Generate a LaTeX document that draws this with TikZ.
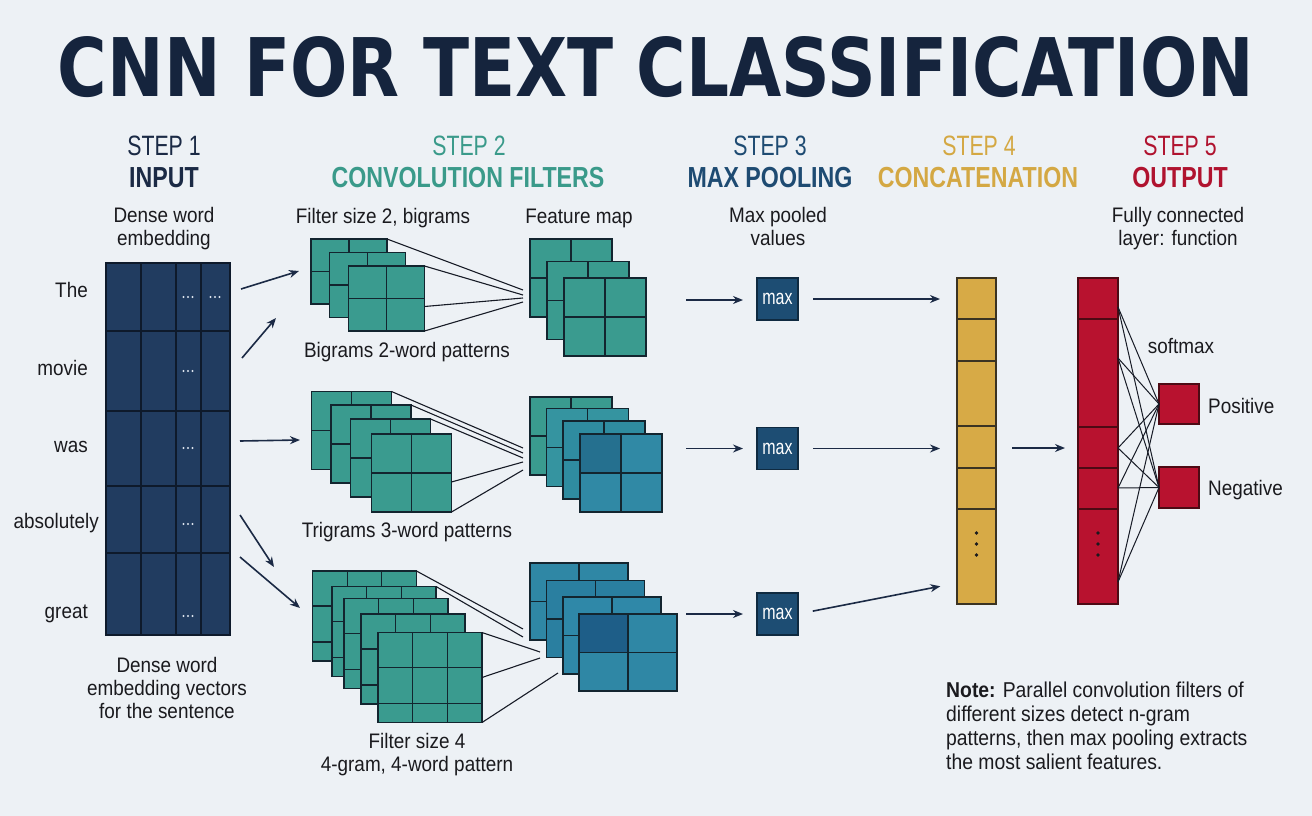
\documentclass[tikz,border=0pt]{standalone}
\usepackage{fontspec}
\usepackage{graphicx}
\setmainfont{Liberation Sans}[FakeStretch=0.9]
\newfontfamily\stepf{Liberation Sans}[FakeStretch=0.76]
\newfontfamily\hdrf{Liberation Sans}[FakeStretch=0.8]
\newfontfamily\titlef{DejaVu Sans}
\usetikzlibrary{arrows.meta,calc}
\definecolor{bg}{HTML}{EDF1F5}
\definecolor{titlec}{HTML}{15243D}
\definecolor{ink}{HTML}{1A1A1E}
\definecolor{c1}{HTML}{1B2A45}
\definecolor{c2}{HTML}{3A9A8A}
\definecolor{c3}{HTML}{1E4B72}
\definecolor{c4}{HTML}{D4A843}
\definecolor{c5}{HTML}{B0132F}
\definecolor{navyf}{HTML}{213C60}
\definecolor{navye}{HTML}{0E1A2B}
\definecolor{dotc}{HTML}{DCE4EE}
\definecolor{edge}{HTML}{13252F}
\definecolor{tealf}{HTML}{3A9B8F}
\definecolor{tealb}{HTML}{3594A0}
\definecolor{tealc}{HTML}{2F8CA0}
\definecolor{teald}{HTML}{3089A5}
\definecolor{darkm}{HTML}{25708F}
\definecolor{blua}{HTML}{2F87A5}
\definecolor{blub}{HTML}{2A7FA0}
\definecolor{bluc}{HTML}{2F88A8}
\definecolor{darkb}{HTML}{1E5E88}
\definecolor{maxc}{HTML}{1D4D73}
\definecolor{maxe}{HTML}{0F2A40}
\definecolor{goldf}{HTML}{D7AA46}
\definecolor{golde}{HTML}{3B3322}
\definecolor{redf}{HTML}{B8122F}
\definecolor{rede}{HTML}{4D0A14}
\definecolor{linec}{HTML}{171B26}
\definecolor{arrc}{HTML}{1B2A45}
\newcommand\wdots[2]{\foreach \dd in {-4.5,0,4.5}{\fill[dotc] ({#1+\dd},{#2}) circle[radius=1.15pt];}}
\begin{document}
\begin{tikzpicture}[x=1pt,y=-1pt,
  cell/.style={draw=edge, line width=1.3pt, inner sep=0pt, outer sep=0pt, rectangle},
  gridl/.style={draw=edge, line width=1.3pt},
  g2/.style={path picture={
    \draw[gridl] (path picture bounding box.north) -- (path picture bounding box.south)
                 (path picture bounding box.west) -- (path picture bounding box.east);}},
  g2d/.style={path picture={
    \fill[#1] (path picture bounding box.north west) rectangle (path picture bounding box.center);
    \draw[gridl] (path picture bounding box.north) -- (path picture bounding box.south)
                 (path picture bounding box.west) -- (path picture bounding box.east);}},
  g3/.style={path picture={
    \draw[gridl]
     ($(path picture bounding box.north west)!1/3!(path picture bounding box.north east)$) -- ($(path picture bounding box.south west)!1/3!(path picture bounding box.south east)$)
     ($(path picture bounding box.north west)!2/3!(path picture bounding box.north east)$) -- ($(path picture bounding box.south west)!2/3!(path picture bounding box.south east)$)
     ($(path picture bounding box.north west)!0.39!(path picture bounding box.south west)$) -- ($(path picture bounding box.north east)!0.39!(path picture bounding box.south east)$)
     ($(path picture bounding box.north west)!0.79!(path picture bounding box.south west)$) -- ($(path picture bounding box.north east)!0.79!(path picture bounding box.south east)$);}},
  fil/.style={cell, fill=tealf, minimum width=76pt, minimum height=65pt, g2},
  filb/.style={cell, fill=tealf, minimum width=80pt, minimum height=78pt, g2},
  filc/.style={cell, fill=tealf, minimum width=104pt, minimum height=90pt, g3},
  fm/.style={cell, fill=#1, minimum width=82pt, minimum height=78pt},
  fmc/.style={cell, fill=#1, minimum width=98pt, minimum height=77pt},
  maxb/.style={cell, fill=maxc, draw=maxe, minimum width=41pt, minimum height=42pt, text=white, font=\stepf\fontsize{21}{22}\selectfont},
  txt/.style={inner sep=0pt, text=ink, font=\fontsize{21}{23}\selectfont, align=center},
  stept/.style={inner sep=0pt, anchor=base, font=\stepf\fontsize{28}{30}\selectfont},
  hdrt/.style={inner sep=0pt, anchor=base, font=\hdrf\bfseries\fontsize{29}{31}\selectfont},
  arr/.style={draw=arrc, line width=1.6pt, -{Stealth[length=10pt,width=8pt]}},
  conn/.style={draw=linec, line width=1.1pt},
  fc/.style={draw=linec, line width=1pt}
]
\useasboundingbox (0,0) rectangle (1312,816);
\fill[bg] (0,0) rectangle (1312,816);

% title
\node[inner sep=0pt, text=titlec] (title) at (656,67) {\resizebox{1196pt}{60pt}{\titlef\bfseries CNN FOR TEXT CLASSIFICATION}};

% step headers
\node[stept, text=c1] (s1) at (164,155) {STEP 1};
\node[hdrt, text=c1] (h1) at (164,187) {INPUT};
\node[stept, text=c2] (s2) at (469,155) {STEP 2};
\node[hdrt, text=c2] (h2) at (468,187) {CONVOLUTION FILTERS};
\node[stept, text=c3] (s3) at (770,155) {STEP 3};
\node[hdrt, text=c3] (h3) at (770,187) {MAX POOLING};
\node[stept, text=c4] (s4) at (979,155) {STEP 4};
\node[hdrt, text=c4] (h4) at (978,187) {CONCATENATION};
\node[stept, text=c5] (s5) at (1180,155) {STEP 5};
\node[hdrt, text=c5] (h5) at (1180,187) {OUTPUT};

% sub labels
\node[txt] (d1) at (164,228.5) {Dense word\\embedding};
\node[txt, anchor=base] (d2) at (383,223) {Filter size 2, bigrams};
\node[txt, anchor=base] (d3) at (579,223) {Feature map};
\node[txt] (d4) at (778,226) {Max pooled\\values};
\node[txt] (d5) at (1178,228.5) {Fully connected\\layer: function};

% input matrix
\node[cell, draw=navye, line width=1.5pt, fill=navyf, minimum width=124pt, minimum height=372pt] (inp) at (168,449) {};
\foreach \xx in {141,176,201} \draw[gridl, draw=navye, line width=1.5pt] (\xx,263) -- (\xx,635);
\foreach \yy in {331,411,486,553} \draw[gridl, draw=navye, line width=1.5pt] (106,\yy) -- (230,\yy);
\foreach \yy in {297,371,448,524,616} {\wdots{188}{\yy}}
\wdots{215}{297}

% words
\node[txt, anchor=base east] (w1) at (88,297) {The};
\node[txt, anchor=base east] (w2) at (88,375) {movie};
\node[txt, anchor=base east] (w3) at (88,452) {was};
\node[txt, anchor=base east] (w4) at (99,528) {absolutely};
\node[txt, anchor=base east] (w5) at (88,618) {great};

% arrows from input
\coordinate (a1s) at (241,289); \coordinate (a1e) at (299,271);
\coordinate (a2s) at (242,358); \coordinate (a2e) at (276,318);
\coordinate (a3s) at (240,441); \coordinate (a3e) at (300,440);
\coordinate (a4s) at (240,515); \coordinate (a4e) at (274,567);
\coordinate (a5s) at (240,557); \coordinate (a5e) at (300,608);
\foreach \i in {1,...,5} \draw[arr] (a\i s) -- (a\i e);

% top filters
\node[fil] (f1a) at (349,271.5) {};
\node[fil] (f1b) at (367.5,285) {};
\node[fil] (f1c) at (386.5,298.5) {};
% top feature map
\node[fm=tealf, g2] (m1a) at (571,278) {};
\node[fm=tealf, g2] (m1b) at (588,300.5) {};
\node[fm=tealf, g2] (m1c) at (605,317) {};
\coordinate (k1) at (523,290); \coordinate (k2) at (523,295);
\coordinate (k3) at (523,298); \coordinate (k4) at (523,302);
\draw[conn] (f1a.north east) -- (k1);
\draw[conn] (f1c.north east) -- (k2);
\draw[conn] ($(f1c.east)+(0,8)$) -- (k3);
\draw[conn] (f1c.south east) -- (k4);
\node[txt, anchor=base] (l1) at (407,357) {Bigrams 2-word patterns};

% middle filters
\node[filb] (f2a) at (351.5,430.5) {};
\node[filb] (f2b) at (371,444) {};
\node[filb] (f2c) at (390.5,458) {};
\node[filb] (f2d) at (411.5,473) {};
\node[fm=tealf, g2] (m2a) at (571,436) {};
\node[fm=tealb, g2] (m2b) at (587.5,447.5) {};
\node[fm=tealc, g2] (m2c) at (604,460) {};
\node[fm=teald, g2d=darkm] (m2d) at (621,473) {};
\coordinate (q1) at (523,448); \coordinate (q2) at (523,453);
\coordinate (q3) at (523,458); \coordinate (q4) at (523,462);
\coordinate (q5) at (523,470);
\draw[conn] (f2a.north east) -- (q1);
\draw[conn] (f2b.north east) -- (q2);
\draw[conn] (f2c.north east) -- (q3);
\draw[conn] ($(f2d.east)+(0,9)$) -- (q4);
\draw[conn] (f2d.south east) -- (q5);
\node[txt, anchor=base] (l2) at (407,537) {Trigrams 3-word patterns};

% bottom filters
\node[filc] (f3a) at (364.5,616) {};
\node[filc] (f3b) at (384,631.5) {};
\node[filc] (f3c) at (396,643.5) {};
\node[filc] (f3d) at (413,659) {};
\node[filc] (f3e) at (430,677.5) {};
\node[fmc=blua, g2] (m3a) at (579,601.5) {};
\node[fmc=blub, g2] (m3b) at (595.5,619) {};
\node[fmc=bluc, g2] (m3c) at (612,635.5) {};
\node[fmc=blua, g2d=darkb] (m3d) at (628,652.5) {};
\coordinate (r1) at (523,629); \coordinate (r2) at (523,637);
\coordinate (r3) at (540,652); \coordinate (r4) at (540,658);
\coordinate (r5) at (558,673);
\draw[conn] (f3a.north east) -- (r1);
\draw[conn] (f3b.north east) -- (r2);
\draw[conn] (f3e.north east) -- (r3);
\draw[conn] (f3e.east) -- (r4);
\draw[conn] (f3e.south east) -- (r5);
\node[txt] (l3) at (417,755) {Filter size 4\\4-gram, 4-word pattern};

\node[txt] (l4) at (167,688) {Dense word\\embedding vectors\\for the sentence};

% max pooling
\node[maxb] (max1) at (777.5,299) {max};
\node[maxb] (max2) at (777.5,448.5) {max};
\node[maxb] (max3) at (777.5,614) {max};
\coordinate (p1) at (686,300);
\coordinate (p2) at (686,448.5);
\coordinate (p3) at (686,614);
\draw[arr, shorten >=14pt] (p1) -- (p1 -| max1.west);
\draw[arr, shorten >=14pt] (p2) -- (p2 -| max2.west);
\draw[arr, shorten >=14pt] (p3) -- (p3 -| max3.west);

% concatenation
\node[cell, fill=goldf, draw=golde, minimum width=39pt, minimum height=326pt] (cat) at (976.5,441) {};
\foreach \yy in {319,361,426,468,509} \draw[gridl, draw=golde] (957,\yy) -- (996,\yy);
\foreach \yy in {533,544,555} \fill[ink] (976.5,\yy) circle[radius=1.8pt];
\coordinate (cin3) at (957,583);
\draw[arr, shorten <=15pt, shorten >=17pt] (max1.east) -- (max1.east -| cat.west);
\draw[arr, shorten <=15pt, shorten >=17pt] (max2.east) -- (max2.east -| cat.west);
\draw[arr, shorten <=15pt, shorten >=17pt] (max3.east) -- (cin3);

% output
\node[cell, fill=redf, draw=rede, minimum width=40pt, minimum height=326pt] (outv) at (1098,441) {};
\foreach \yy in {319,427,468,509} \draw[gridl, draw=rede] (1078,\yy) -- (1118,\yy);
\foreach \yy in {533,544,555} \fill[ink] (1098,\yy) circle[radius=1.8pt];
\coordinate (cout) at (996,448);
\draw[arr, shorten <=16pt, shorten >=13pt] (cout) -- (cout -| outv.west);

\node[cell, fill=redf, draw=rede, minimum width=40pt, minimum height=40pt] (pos) at (1179,404) {};
\node[cell, fill=redf, draw=rede, minimum width=40pt, minimum height=41pt] (neg) at (1179,487.5) {};
\foreach \yy [count=\i] in {307,358,448,488,582} {
  \coordinate (o\i) at (1118,\yy);
  \draw[fc] (o\i) -- (pos.west);
  \draw[fc] (o\i) -- (neg.west);
}
\node[txt, anchor=base] (sm) at (1181,353) {softmax};
\node[txt, anchor=base west] (lp) at (1208,413) {Positive};
\node[txt, anchor=base west] (ln) at (1208,495) {Negative};

% note
\node[txt, align=left, anchor=west, font=\fontsize{21.5}{23.8}\selectfont] (note) at (946,726)
 {\textbf{Note:} Parallel convolution filters of\\different sizes detect n-gram\\patterns, then max pooling extracts\\the most salient features.};
\end{tikzpicture}
\end{document}
